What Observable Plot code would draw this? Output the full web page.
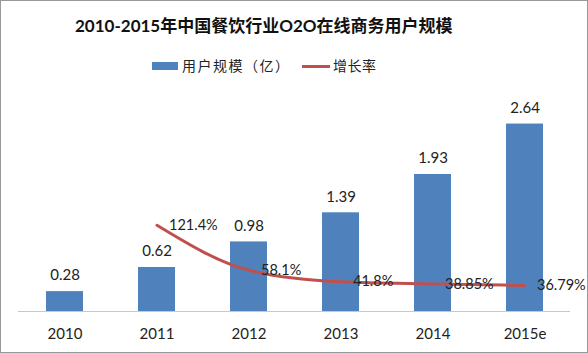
<!DOCTYPE html>
<html>
<head>
<meta charset="utf-8">
<script src="https://cdn.jsdelivr.net/npm/d3@7"></script>
<script src="https://cdn.jsdelivr.net/npm/@observablehq/plot@0.6"></script>
<style>
  html, body { margin: 0; padding: 0; background: #fff; }
  #wrap { position: relative; width: 588px; height: 353px; overflow: hidden; background: #fff;
          font-family: Lato, "Noto Sans CJK SC", sans-serif; }
  #border { position: absolute; left: 0; top: 0; width: 588px; height: 353px; box-sizing: border-box;
            border: 1px solid #999; pointer-events: none; }
  #title { position: absolute; left: 75px; top: 12px; font-weight: bold; font-size: 17px;
           color: #111; white-space: nowrap; }
  .lg { position: absolute; font-size: 14px; color: #222; white-space: nowrap; line-height: 1; }
  .sw-bar { position: absolute; left: 152px; top: 62px; width: 26px; height: 8px; background: #4F81BD; }
  .sw-line { position: absolute; left: 302px; top: 65px; width: 28px; height: 3px; background: #C0504D; }
  #chart { position: absolute; left: 0; top: 80px; }
</style>
</head>
<body>
<div id="wrap">
  <div id="title">2010-2015年中国餐饮行业O2O在线商务用户规模</div>
  <div class="sw-bar"></div>
  <div class="lg" style="left:182px; top:59px; letter-spacing:1.5px;">用户规模（亿）</div>
  <div class="sw-line"></div>
  <div class="lg" style="left:333px; top:59px; letter-spacing:0.5px;">增长率</div>
  <div id="chart"></div>
  <div id="border"></div>
</div>
<script>
const years = ["2010", "2011", "2012", "2013", "2014", "2015e"];
const users = [0.28, 0.62, 0.98, 1.39, 1.93, 2.64];
const rateYears = ["2011", "2012", "2013", "2014", "2015e"];
const rates = [121.4, 58.1, 41.8, 38.85, 36.79];
const rateLabels = ["121.4%", "58.1%", "41.8%", "38.85%", "36.79%"];

const yMax = 3;      // primary axis max (亿)
const rateMax = 300; // secondary axis max (%)

const barData = years.map((y, i) => ({year: y, users: users[i]}));
const rateData = rateYears.map((y, i) => ({year: y, rate: rates[i], label: rateLabels[i]}));
const rateToY = d => d.rate * yMax / rateMax;

const chart = Plot.plot({
  width: 588,
  height: 273,
  marginTop: 18,
  marginBottom: 42,
  marginLeft: 18,
  marginRight: 18,
  style: {fontFamily: 'Lato, "Noto Sans CJK SC", sans-serif', background: "transparent", color: "#222"},
  x: {domain: years, paddingInner: 0.6, paddingOuter: 0.3, label: null},
  y: {domain: [0, yMax], axis: null},
  marks: [
    Plot.barY(barData, {x: "year", y: "users", fill: "#4F81BD"}),
    Plot.ruleY([0], {stroke: "#c8c8c8", strokeWidth: 1}),
    Plot.axisX({tickSize: 0, tickPadding: 17, fontSize: 15, label: null, fill: "#222"}),
    Plot.text(barData, {x: "year", y: "users", text: d => d.users.toFixed(2), dy: -16, fontSize: 15, fill: "#222"}),
    Plot.line(rateData, {x: "year", y: rateToY, stroke: "#C0504D", strokeWidth: 3, curve: "monotone-x"}),
    Plot.text(rateData, {x: "year", y: rateToY, text: "label", textAnchor: "start", dx: 12, fontSize: 14.5, fill: "#222"})
  ]
});
document.getElementById("chart").appendChild(chart);
</script>
</body>
</html>
